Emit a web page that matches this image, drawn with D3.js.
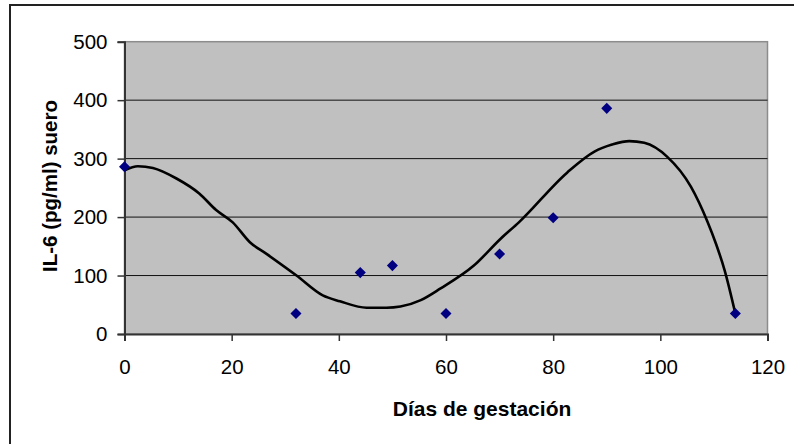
<!DOCTYPE html>
<html>
<head>
<meta charset="utf-8">
<script src="https://cdn.jsdelivr.net/npm/d3@7"></script>
<style>
  body { margin: 0; background: #fff; }
  svg { display: block; font-family: "Liberation Sans", Arial, sans-serif; }
</style>
</head>
<body>
<div id="chart"></div>
<script>
// measured points (days, IL-6)
const dias = [0, 32, 44, 50, 60, 70, 80, 90, 114];
const il6 = [286, 35, 105, 117, 35, 137, 199, 386, 35];

// trend line
const trendX = [0, 2.5, 5.3, 9.7, 14, 17.1, 20.2, 23.4, 26.5, 32.1, 37, 40.2, 45.2, 48.9, 51.5, 55.3, 59, 65.2, 70.2, 73.6, 82.6, 87.7, 91, 94.2, 97, 101.3, 105.7, 108.8, 110.4, 112, 114];
const trendY = [280, 287, 284, 266, 240, 212, 191, 157, 137, 100, 66, 56, 45, 45, 47, 58, 78, 117, 163, 191, 276, 312, 324, 330, 327, 303, 252, 192, 154, 109, 35];

const xTicks = [0, 20, 40, 60, 80, 100, 120];
const yTicks = [0, 100, 200, 300, 400, 500];

const width = 794, height = 444;
const margin = { left: 124.5, top: 41.7, right: 794 - 767.5, bottom: 444 - 334 };

const svg = d3.select("#chart").append("svg")
    .attr("width", width)
    .attr("height", height);

// outer chart frame (runs off right and bottom)
svg.append("rect")
    .attr("x", 10).attr("y", 5)
    .attr("width", 900).attr("height", 600)
    .attr("fill", "none")
    .attr("stroke", "#222")
    .attr("stroke-width", 2);

const x = d3.scaleLinear().domain([0, 120]).range([margin.left, width - margin.right]);
const y = d3.scaleLinear().domain([0, 500]).range([height - margin.bottom, margin.top]);

// plot area
svg.append("rect")
    .attr("x", x(0)).attr("y", y(500))
    .attr("width", x(120) - x(0)).attr("height", y(0) - y(500))
    .attr("fill", "#c0c0c0")
    .attr("stroke", "#8c8c8c")
    .attr("stroke-width", 1.5);

// gridlines
svg.append("g")
    .selectAll("line")
    .data(yTicks.filter(d => d > 0 && d < 500))
    .enter().append("line")
    .attr("x1", x(0)).attr("x2", x(120))
    .attr("y1", d => y(d)).attr("y2", d => y(d))
    .attr("stroke", "#111")
    .attr("stroke-width", 1);

// axes
const yAxis = svg.append("g")
    .attr("transform", `translate(${x(0)},0)`)
    .call(d3.axisLeft(y).tickValues(yTicks).tickSize(7).tickPadding(10));
const xAxis = svg.append("g")
    .attr("transform", `translate(0,${y(0)})`)
    .call(d3.axisBottom(x).tickValues(xTicks).tickSize(7).tickPadding(18));

[yAxis, xAxis].forEach(a => {
    a.select(".domain").attr("stroke", "#333").attr("stroke-width", 2);
    a.selectAll(".tick line").attr("stroke", "#333").attr("stroke-width", 1.5);
    a.selectAll(".tick text")
        .attr("fill", "#000")
        .style("font-size", "20.5px")
        .style("font-family", "Liberation Sans, Arial, sans-serif");
});

// trend curve
const line = d3.line()
    .x((d, i) => x(trendX[i]))
    .y(d => y(d))
    .curve(d3.curveMonotoneX);

svg.append("path")
    .datum(trendY)
    .attr("d", line)
    .attr("fill", "none")
    .attr("stroke", "#000")
    .attr("stroke-width", 2.6);

// markers
svg.append("g")
    .selectAll("path")
    .data(dias)
    .enter().append("path")
    .attr("transform", (d, i) => `translate(${x(d)},${y(il6[i])})`)
    .attr("d", d3.symbol().type(d3.symbolDiamond2).size(78))
    .attr("fill", "#000080");

// titles
svg.append("text")
    .attr("x", 482).attr("y", 416)
    .attr("text-anchor", "middle")
    .style("font-size", "21px")
    .style("font-weight", "bold")
    .text("Días de gestación");

svg.append("text")
    .attr("transform", "translate(57,186) rotate(-90)")
    .attr("text-anchor", "middle")
    .style("font-size", "20.5px")
    .style("font-weight", "bold")
    .text("IL-6 (pg/ml) suero");
</script>
</body>
</html>
